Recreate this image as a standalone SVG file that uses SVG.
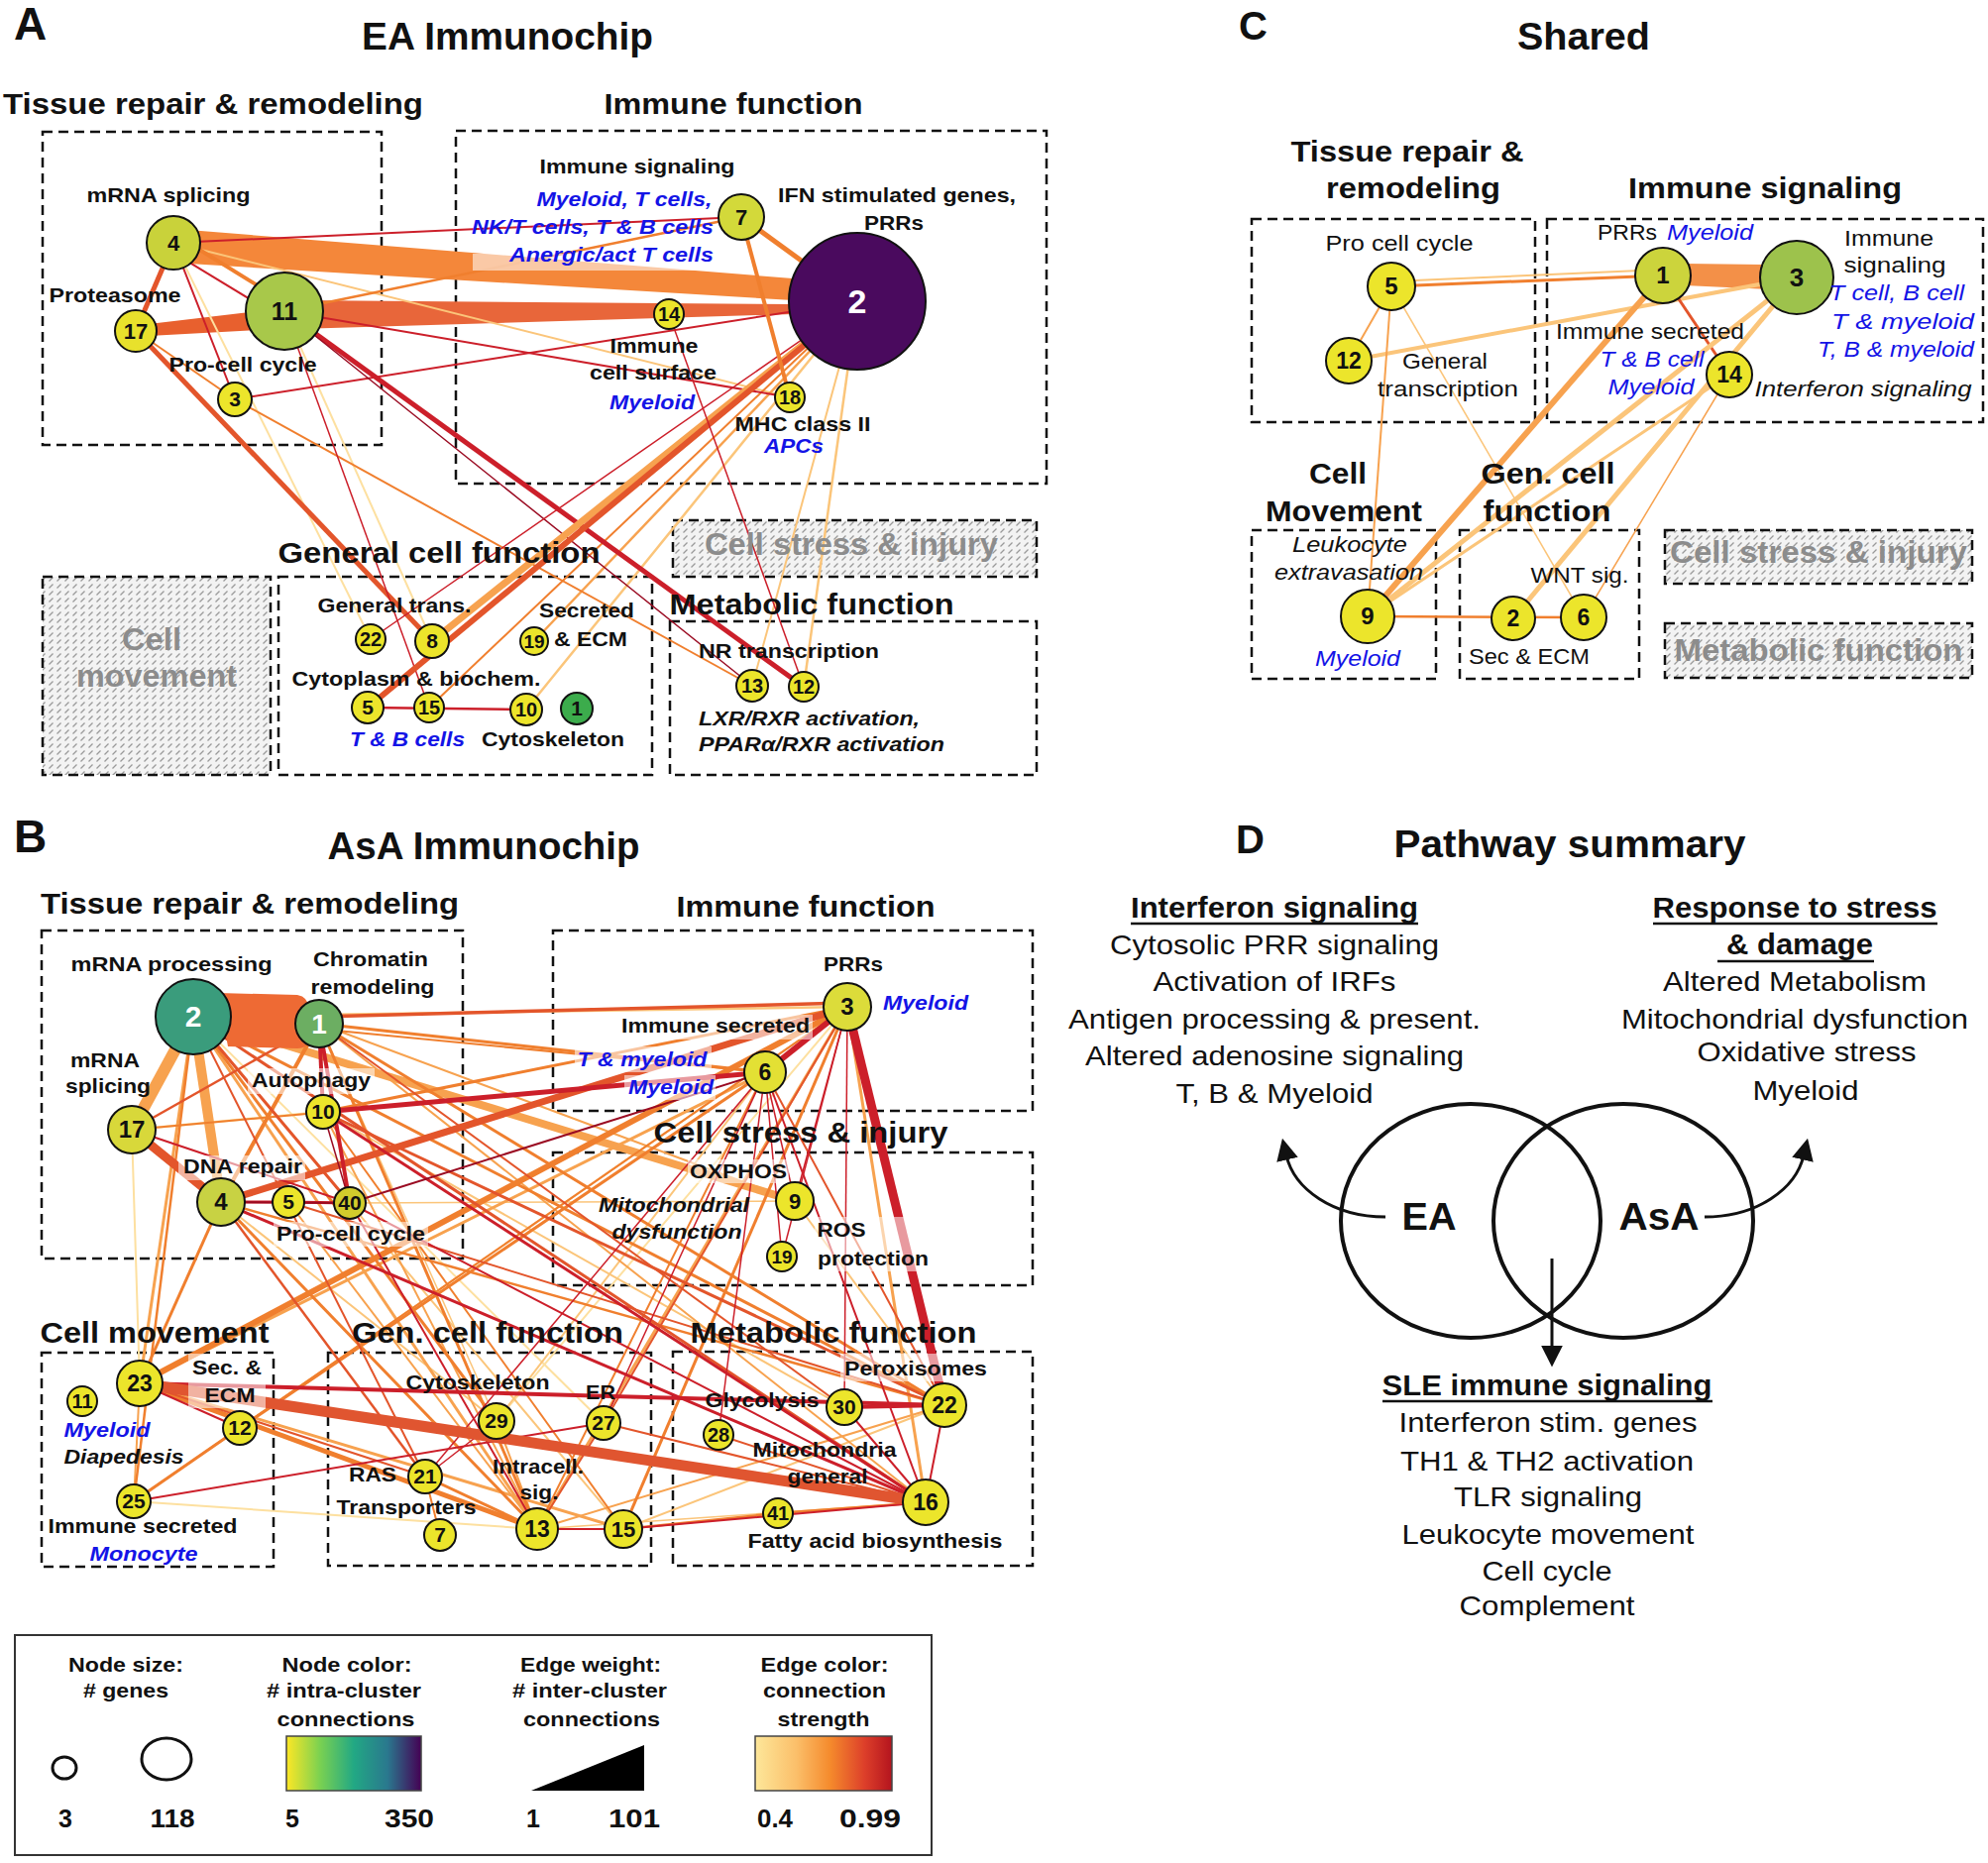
<svg xmlns="http://www.w3.org/2000/svg" width="2006" height="1880" viewBox="0 0 2006 1880">
<style>
text{font-family:"Liberation Sans",Arial,Helvetica,sans-serif;text-anchor:middle;fill:#111}
.s{text-anchor:start}
.P{font-weight:bold;font-size:46px}
.T{font-weight:bold;font-size:39px}
.H{font-weight:bold;font-size:29px}
.L{font-weight:bold;font-size:21px}
.LB{font-weight:bold;font-size:21px;font-style:italic;fill:#1414e6}
.LI{font-weight:bold;font-size:21px;font-style:italic}
.C{font-size:22px}
.CB{font-size:22px;font-style:italic;fill:#1414e6}
.CI{font-size:22px;font-style:italic}
.G{font-weight:bold;font-size:31px;fill:#8c8c8c}
.D{font-size:28px}
.DB{font-size:29px;font-weight:bold}
.N{font-weight:bold}
.W{fill:#fff}
.box{fill:none;stroke:#111;stroke-width:2.5;stroke-dasharray:10 6}
.hat{fill:url(#hatch);stroke:#111;stroke-width:2.5;stroke-dasharray:10 6}
.nd{stroke:#111;stroke-width:2}
.y{fill:#ece52b}
.bg{fill:#fff;opacity:.55}
.dr{stroke:#9a0b22}.r{stroke:#cc1f2a}.ro{stroke:#e3552b}.o{stroke:#f07f2e}.lo{stroke:#f7a24f}.p{stroke:#fbc57a}.py{stroke:#fde0a0}
.ul{stroke:#111;stroke-width:2.5}
.ven{fill:none;stroke:#111;stroke-width:4}
.arr{fill:none;stroke:#111;stroke-width:3}
</style>
<defs>
<pattern id="hatch" patternUnits="userSpaceOnUse" width="8" height="7">
<rect width="8" height="7" fill="#f3f3f3"/>
<path d="M1.5,5.5 L5.5,1.5" stroke="#9a9a9a" stroke-width="1.2"/>
</pattern>
<linearGradient id="vir" x1="0" y1="0" x2="1" y2="0">
<stop offset="0" stop-color="#fde725"/><stop offset="0.25" stop-color="#7ad151"/><stop offset="0.5" stop-color="#22a884"/><stop offset="0.75" stop-color="#2a788e"/><stop offset="1" stop-color="#440154"/>
</linearGradient>
<linearGradient id="heat" x1="0" y1="0" x2="1" y2="0">
<stop offset="0" stop-color="#fde79a"/><stop offset="0.3" stop-color="#fbbf6a"/><stop offset="0.55" stop-color="#f58a2c"/><stop offset="0.8" stop-color="#dd3f2a"/><stop offset="1" stop-color="#b4141e"/>
</linearGradient>
<marker id="ah" viewBox="0 0 10 10" refX="2" refY="5" markerWidth="22" markerHeight="22" markerUnits="userSpaceOnUse" orient="auto">
<path d="M0,0 L10,5 L0,10 z" fill="#111"/>
</marker>
</defs>
<rect width="2006" height="1880" fill="#fff"/>

<!-- ================= PANEL A ================= -->
<g id="A-frames">
<rect class="box" x="43" y="133" width="342" height="316"/>
<rect class="box" x="460" y="132" width="596" height="356"/>
<rect class="hat" x="43" y="582" width="230" height="200"/>
<rect class="box" x="281" y="582" width="377" height="200"/>
<rect class="hat" x="679" y="525" width="367" height="57"/>
<rect class="box" x="676" y="627" width="370" height="155"/>
</g>
<g id="A-edges">
<polygon points="190,232 800,281 800,303 190,266" fill="#f4873a"/>
<polygon points="300,303 800,307 800,317 300,332" fill="#e8663a"/>
<polygon points="150,327 260,314 260,333 150,339" fill="#e8602e"/>
<line class="py" stroke-width="2" x1="175" y1="245" x2="374" y2="645"/>
<line class="p" stroke-width="2" x1="175" y1="245" x2="797" y2="401"/>
<line class="py" stroke-width="2" x1="287" y1="314" x2="436" y2="647"/>
<line class="p" stroke-width="2" x1="865" y1="304" x2="759" y2="692"/>
<line class="p" stroke-width="2.5" x1="865" y1="304" x2="811" y2="693"/>
<line class="p" stroke-width="2.5" x1="865" y1="304" x2="531" y2="716"/>
<line class="lo" stroke-width="2.5" x1="865" y1="304" x2="539" y2="647"/>
<line class="o" stroke-width="2" x1="865" y1="304" x2="433" y2="714"/>
<line class="r" stroke-width="2" x1="175" y1="245" x2="748" y2="219"/>
<line class="o" stroke-width="4" x1="182" y1="240" x2="292" y2="308"/>
<line class="r" stroke-width="2" x1="170" y1="252" x2="282" y2="320"/>
<line class="ro" stroke-width="5" x1="175" y1="245" x2="137" y2="334"/>
<line class="r" stroke-width="2" x1="175" y1="245" x2="237" y2="403"/>
<line class="o" stroke-width="2.5" x1="287" y1="314" x2="748" y2="219"/>
<line class="r" stroke-width="2" x1="287" y1="314" x2="797" y2="401"/>
<line class="r" stroke-width="2" x1="237" y1="403" x2="865" y2="304"/>
<line class="ro" stroke-width="5" x1="137" y1="334" x2="436" y2="647"/>
<line class="o" stroke-width="2" x1="137" y1="334" x2="237" y2="403"/>
<line class="o" stroke-width="2" x1="237" y1="403" x2="759" y2="692"/>
<line class="r" stroke-width="5" x1="287" y1="314" x2="811" y2="693"/>
<line class="dr" stroke-width="1.5" x1="287" y1="314" x2="759" y2="692"/>
<line class="r" stroke-width="1.5" x1="287" y1="314" x2="433" y2="714"/>
<line class="lo" stroke-width="7" x1="865" y1="304" x2="436" y2="647"/>
<line class="ro" stroke-width="6" x1="865" y1="304" x2="371" y2="714"/>
<line class="r" stroke-width="1.5" x1="865" y1="304" x2="374" y2="645"/>
<line class="r" stroke-width="1.5" x1="675" y1="317" x2="811" y2="693"/>
<line class="o" stroke-width="4" x1="748" y1="219" x2="797" y2="401"/>
<line class="o" stroke-width="5" x1="748" y1="219" x2="865" y2="304"/>
<line class="r" stroke-width="2.5" x1="371" y1="714" x2="531" y2="716"/>
</g>
<rect class="bg" x="477" y="256" width="245" height="17"/>
<g id="A-n4"><circle class="nd" cx="175" cy="245" r="27" fill="#c9d23a"/><text class="N" x="175" y="253" font-size="22">4</text></g>
<g id="A-n11"><circle class="nd" cx="287" cy="314" r="39" fill="#a8c84a"/><text class="N" x="287" y="323" font-size="25">11</text></g>
<g id="A-n17"><circle class="nd" cx="137" cy="334" r="21" fill="#e8e12c"/><text class="N" x="137" y="342" font-size="22">17</text></g>
<g id="A-n3"><circle class="nd y" cx="237" cy="403" r="17"/><text class="N" x="237" y="410" font-size="21">3</text></g>
<g id="A-n7"><circle class="nd" cx="748" cy="219" r="23" fill="#d3d93a"/><text class="N" x="748" y="227" font-size="22">7</text></g>
<g id="A-n2"><circle class="nd" cx="865" cy="304" r="69" fill="#4a0a5e"/><text class="N W" x="865" y="316" font-size="34">2</text></g>
<g id="A-n14"><circle class="nd y" cx="675" cy="317" r="15"/><text class="N" x="675" y="324" font-size="20">14</text></g>
<g id="A-n18"><circle class="nd y" cx="797" cy="401" r="15"/><text class="N" x="797" y="408" font-size="20">18</text></g>
<g id="A-n22"><circle class="nd y" cx="374" cy="645" r="15"/><text class="N" x="374" y="652" font-size="20">22</text></g>
<g id="A-n8"><circle class="nd y" cx="436" cy="647" r="17"/><text class="N" x="436" y="654" font-size="21">8</text></g>
<g id="A-n19"><circle class="nd y" cx="539" cy="647" r="14"/><text class="N" x="539" y="654" font-size="19">19</text></g>
<g id="A-n5"><circle class="nd y" cx="371" cy="714" r="16"/><text class="N" x="371" y="721" font-size="21">5</text></g>
<g id="A-n15"><circle class="nd y" cx="433" cy="714" r="15"/><text class="N" x="433" y="721" font-size="20">15</text></g>
<g id="A-n10"><circle class="nd y" cx="531" cy="716" r="16"/><text class="N" x="531" y="723" font-size="20">10</text></g>
<g id="A-n1"><circle class="nd" cx="582" cy="715" r="16" fill="#3cac4c"/><text class="N" x="582" y="722" font-size="21">1</text></g>
<g id="A-n13"><circle class="nd y" cx="759" cy="692" r="16"/><text class="N" x="759" y="699" font-size="20">13</text></g>
<g id="A-n12"><circle class="nd y" cx="811" cy="693" r="15"/><text class="N" x="811" y="700" font-size="20">12</text></g>
<g id="A-text">
<text class="P s" x="14" y="40">A</text>
<text class="T" x="512" y="50" textLength="294" lengthAdjust="spacingAndGlyphs">EA Immunochip</text>
<text class="H" x="215" y="115" textLength="424" lengthAdjust="spacingAndGlyphs">Tissue repair &amp; remodeling</text>
<text class="H" x="740" y="115" textLength="261" lengthAdjust="spacingAndGlyphs">Immune function</text>
<text class="L" x="170" y="204" textLength="165" lengthAdjust="spacingAndGlyphs">mRNA splicing</text>
<text class="L" x="116" y="305" textLength="133" lengthAdjust="spacingAndGlyphs">Proteasome</text>
<text class="L" x="245" y="375" textLength="149" lengthAdjust="spacingAndGlyphs">Pro-cell cycle</text>
<text class="L" x="643" y="175" textLength="197" lengthAdjust="spacingAndGlyphs">Immune signaling</text>
<text class="LB" x="630" y="208" textLength="177" lengthAdjust="spacingAndGlyphs">Myeloid, T cells,</text>
<text class="LB" x="598" y="236" textLength="244" lengthAdjust="spacingAndGlyphs">NK/T cells, T &amp; B cells</text>
<text class="LB" x="617" y="264" textLength="206" lengthAdjust="spacingAndGlyphs">Anergic/act T cells</text>
<text class="L" x="905" y="204" textLength="240" lengthAdjust="spacingAndGlyphs">IFN stimulated genes,</text>
<text class="L" x="902" y="232" textLength="60" lengthAdjust="spacingAndGlyphs">PRRs</text>
<text class="L" x="660" y="356" textLength="89" lengthAdjust="spacingAndGlyphs">Immune</text>
<text class="L" x="659" y="383" textLength="128" lengthAdjust="spacingAndGlyphs">cell surface</text>
<text class="LB" x="658" y="413" textLength="86" lengthAdjust="spacingAndGlyphs">Myeloid</text>
<text class="L" x="810" y="435" textLength="137" lengthAdjust="spacingAndGlyphs">MHC class II</text>
<text class="LB" x="801" y="457" textLength="60" lengthAdjust="spacingAndGlyphs">APCs</text>
<text class="H" x="443" y="568" textLength="325" lengthAdjust="spacingAndGlyphs">General cell function</text>
<text class="G" x="153" y="656" textLength="60" lengthAdjust="spacingAndGlyphs">Cell</text>
<text class="G" x="158" y="693" textLength="162" lengthAdjust="spacingAndGlyphs">movement</text>
<text class="L" x="398" y="618" textLength="155" lengthAdjust="spacingAndGlyphs">General trans.</text>
<text class="L" x="420" y="692" textLength="251" lengthAdjust="spacingAndGlyphs">Cytoplasm &amp; biochem.</text>
<text class="LB" x="411" y="753" textLength="116" lengthAdjust="spacingAndGlyphs">T &amp; B cells</text>
<text class="L" x="558" y="753" textLength="144" lengthAdjust="spacingAndGlyphs">Cytoskeleton</text>
<text class="L" x="592" y="623" textLength="96" lengthAdjust="spacingAndGlyphs">Secreted</text>
<text class="L" x="596" y="652" textLength="74" lengthAdjust="spacingAndGlyphs">&amp; ECM</text>
<text class="G" x="859" y="560" textLength="296" lengthAdjust="spacingAndGlyphs">Cell stress &amp; injury</text>
<text class="H" x="819" y="620" textLength="287" lengthAdjust="spacingAndGlyphs">Metabolic function</text>
<text class="L" x="796" y="664" textLength="182" lengthAdjust="spacingAndGlyphs">NR transcription</text>
<text class="LI s" x="705" y="732" textLength="223" lengthAdjust="spacingAndGlyphs">LXR/RXR activation,</text>
<text class="LI s" x="705" y="758" textLength="248" lengthAdjust="spacingAndGlyphs">PPARα/RXR activation</text>
</g>

<!-- ================= PANEL C ================= -->
<g id="C-frames">
<rect class="box" x="1263" y="221" width="286" height="205"/>
<rect class="box" x="1561" y="221" width="440" height="205"/>
<rect class="box" x="1263" y="535" width="186" height="150"/>
<rect class="box" x="1473" y="535" width="181" height="150"/>
<rect class="hat" x="1680" y="535" width="310" height="54"/>
<rect class="hat" x="1680" y="629" width="310" height="55"/>
</g>
<g id="C-edges">
<polygon points="1700,266 1785,267 1785,292 1700,288" fill="#f39048"/>
<line class="p" stroke-width="2" x1="1404" y1="284" x2="1678" y2="272"/>
<line class="o" stroke-width="3" x1="1404" y1="289" x2="1678" y2="278"/>
<line class="p" stroke-width="4" x1="1361" y1="364" x2="1813" y2="280"/>
<line class="lo" stroke-width="2" x1="1404" y1="289" x2="1361" y2="364"/>
<line class="lo" stroke-width="2" x1="1404" y1="289" x2="1380" y2="622"/>
<line class="p" stroke-width="1.5" x1="1404" y1="289" x2="1598" y2="623"/>
<line class="ro" stroke-width="3" x1="1678" y1="278" x2="1745" y2="378"/>
<line class="p" stroke-width="5" x1="1813" y1="280" x2="1380" y2="622"/>
<line class="p" stroke-width="3" x1="1745" y1="378" x2="1380" y2="622"/>
<line class="p" stroke-width="5" x1="1813" y1="280" x2="1527" y2="624"/>
<line class="lo" stroke-width="1.5" x1="1745" y1="378" x2="1598" y2="623"/>
<line class="lo" stroke-width="6" x1="1678" y1="278" x2="1380" y2="622"/>
<line class="o" stroke-width="2.5" x1="1380" y1="622" x2="1598" y2="623"/>
</g>
<g id="C-n5"><circle class="nd y" cx="1404" cy="289" r="24"/><text class="N" x="1404" y="297" font-size="24">5</text></g>
<g id="C-n12"><circle class="nd y" cx="1361" cy="364" r="23"/><text class="N" x="1361" y="372" font-size="23">12</text></g>
<g id="C-n1"><circle class="nd" cx="1678" cy="278" r="28" fill="#ccd43c"/><text class="N" x="1678" y="286" font-size="24">1</text></g>
<g id="C-n3"><circle class="nd" cx="1813" cy="280" r="37" fill="#9dc24c"/><text class="N" x="1813" y="289" font-size="26">3</text></g>
<g id="C-n14"><circle class="nd y" cx="1745" cy="378" r="23"/><text class="N" x="1745" y="386" font-size="23">14</text></g>
<g id="C-n9"><circle class="nd y" cx="1380" cy="622" r="27"/><text class="N" x="1380" y="630" font-size="24">9</text></g>
<g id="C-n2"><circle class="nd y" cx="1527" cy="624" r="22"/><text class="N" x="1527" y="632" font-size="23">2</text></g>
<g id="C-n6"><circle class="nd y" cx="1598" cy="623" r="23"/><text class="N" x="1598" y="631" font-size="23">6</text></g>
<g id="C-text">
<text class="s" x="1250" y="40" font-size="40" font-weight="bold">C</text>
<text class="T" x="1598" y="50" textLength="134" lengthAdjust="spacingAndGlyphs">Shared</text>
<text class="H" x="1420" y="163" textLength="235" lengthAdjust="spacingAndGlyphs">Tissue repair &amp;</text>
<text class="H" x="1426" y="200" textLength="176" lengthAdjust="spacingAndGlyphs">remodeling</text>
<text class="H" x="1781" y="200" textLength="276" lengthAdjust="spacingAndGlyphs">Immune signaling</text>
<text class="C" x="1412" y="253" textLength="149" lengthAdjust="spacingAndGlyphs">Pro cell cycle</text>
<text class="C" x="1458" y="372" textLength="86" lengthAdjust="spacingAndGlyphs">General</text>
<text class="C" x="1461" y="400" textLength="142" lengthAdjust="spacingAndGlyphs">transcription</text>
<text class="C s" x="1612" y="242" textLength="60" lengthAdjust="spacingAndGlyphs">PRRs</text>
<text class="CB s" x="1682" y="242" textLength="87" lengthAdjust="spacingAndGlyphs">Myeloid</text>
<text class="C" x="1906" y="248" textLength="90" lengthAdjust="spacingAndGlyphs">Immune</text>
<text class="C" x="1912" y="275" textLength="103" lengthAdjust="spacingAndGlyphs">signaling</text>
<text class="CB" x="1914" y="303" textLength="136" lengthAdjust="spacingAndGlyphs">T cell, B cell</text>
<text class="CB" x="1920" y="332" textLength="144" lengthAdjust="spacingAndGlyphs">T &amp; myeloid</text>
<text class="CB" x="1913" y="360" textLength="158" lengthAdjust="spacingAndGlyphs">T, B &amp; myeloid</text>
<text class="C" x="1665" y="342" textLength="190" lengthAdjust="spacingAndGlyphs">Immune secreted</text>
<text class="CB" x="1667" y="370" textLength="105" lengthAdjust="spacingAndGlyphs">T &amp; B cell</text>
<text class="CB" x="1666" y="398" textLength="87" lengthAdjust="spacingAndGlyphs">Myeloid</text>
<text class="CI" x="1880" y="400" textLength="219" lengthAdjust="spacingAndGlyphs">Interferon signaling</text>
<text class="H" x="1350" y="488" textLength="58" lengthAdjust="spacingAndGlyphs">Cell</text>
<text class="H" x="1356" y="526" textLength="158" lengthAdjust="spacingAndGlyphs">Movement</text>
<text class="H" x="1562" y="488" textLength="135" lengthAdjust="spacingAndGlyphs">Gen. cell</text>
<text class="H" x="1561" y="526" textLength="129" lengthAdjust="spacingAndGlyphs">function</text>
<text class="CI" x="1362" y="557" textLength="116" lengthAdjust="spacingAndGlyphs">Leukocyte</text>
<text class="CI" x="1361" y="585" textLength="150" lengthAdjust="spacingAndGlyphs">extravasation</text>
<text class="CB" x="1370" y="672" textLength="86" lengthAdjust="spacingAndGlyphs">Myeloid</text>
<text class="C" x="1594" y="588" textLength="99" lengthAdjust="spacingAndGlyphs">WNT sig.</text>
<text class="C" x="1543" y="670" textLength="122" lengthAdjust="spacingAndGlyphs">Sec &amp; ECM</text>
<text class="G" x="1835" y="568" textLength="300" lengthAdjust="spacingAndGlyphs">Cell stress &amp; injury</text>
<text class="G" x="1835" y="667" textLength="291" lengthAdjust="spacingAndGlyphs">Metabolic function</text>
</g>

<!-- ================= PANEL B ================= -->
<g id="B-frames">
<rect class="box" x="42" y="939" width="425" height="331"/>
<rect class="box" x="558" y="939" width="484" height="182"/>
<rect class="box" x="558" y="1163" width="484" height="134"/>
<rect class="box" x="42" y="1365" width="234" height="216"/>
<rect class="box" x="331" y="1365" width="326" height="215"/>
<rect class="box" x="679" y="1364" width="363" height="216"/>
</g>
<g id="B-edges">
<line class="py" stroke-width="2" x1="195" y1="1026" x2="609" y2="1436"/>
<line class="py" stroke-width="2.5" x1="133" y1="1140" x2="326" y2="1122"/>
<line class="py" stroke-width="2" x1="133" y1="1140" x2="141" y2="1396"/>
<line class="py" stroke-width="2" x1="855" y1="1016" x2="501" y2="1434"/>
<line class="py" stroke-width="2" x1="135" y1="1515" x2="542" y2="1543"/>
<line class="p" stroke-width="2.5" x1="195" y1="1026" x2="855" y2="1016"/>
<line class="p" stroke-width="2" x1="195" y1="1026" x2="629" y2="1543"/>
<line class="p" stroke-width="1.5" x1="322" y1="1033" x2="501" y2="1434"/>
<line class="p" stroke-width="2" x1="326" y1="1122" x2="852" y2="1420"/>
<line class="p" stroke-width="2" x1="223" y1="1213" x2="501" y2="1434"/>
<line class="p" stroke-width="1.5" x1="353" y1="1214" x2="802" y2="1212"/>
<line class="p" stroke-width="2" x1="855" y1="1016" x2="242" y2="1441"/>
<line class="p" stroke-width="2" x1="772" y1="1082" x2="501" y2="1434"/>
<line class="p" stroke-width="2" x1="802" y1="1212" x2="953" y2="1418"/>
<line class="p" stroke-width="1.5" x1="542" y1="1543" x2="934" y2="1516"/>
<line class="p" stroke-width="2" x1="629" y1="1543" x2="953" y2="1418"/>
<line class="lo" stroke-width="12" x1="195" y1="1026" x2="133" y2="1140"/>
<line class="lo" stroke-width="10" x1="195" y1="1026" x2="223" y2="1213"/>
<line class="lo" stroke-width="8" x1="195" y1="1026" x2="802" y2="1212"/>
<line class="lo" stroke-width="3" x1="195" y1="1026" x2="542" y2="1543"/>
<line class="lo" stroke-width="3" x1="195" y1="1026" x2="141" y2="1396"/>
<line class="lo" stroke-width="2" x1="322" y1="1033" x2="802" y2="1212"/>
<line class="lo" stroke-width="2" x1="322" y1="1033" x2="934" y2="1516"/>
<line class="lo" stroke-width="2" x1="326" y1="1122" x2="542" y2="1543"/>
<line class="lo" stroke-width="2" x1="291" y1="1213" x2="542" y2="1543"/>
<line class="lo" stroke-width="3" x1="855" y1="1016" x2="934" y2="1516"/>
<line class="lo" stroke-width="3" x1="855" y1="1016" x2="542" y2="1543"/>
<line class="lo" stroke-width="3" x1="772" y1="1082" x2="141" y2="1396"/>
<line class="lo" stroke-width="2" x1="141" y1="1396" x2="135" y2="1515"/>
<line class="lo" stroke-width="3" x1="141" y1="1396" x2="629" y2="1543"/>
<line class="lo" stroke-width="2" x1="501" y1="1434" x2="542" y2="1543"/>
<line class="lo" stroke-width="2" x1="542" y1="1543" x2="953" y2="1418"/>
<line class="o" stroke-width="3" x1="195" y1="1026" x2="501" y2="1434"/>
<line class="o" stroke-width="3" x1="195" y1="1026" x2="953" y2="1418"/>
<line class="o" stroke-width="2.5" x1="195" y1="1026" x2="135" y2="1515"/>
<line class="o" stroke-width="2" x1="195" y1="1026" x2="772" y2="1082"/>
<line class="o" stroke-width="3" x1="322" y1="1033" x2="772" y2="1082"/>
<line class="o" stroke-width="4" x1="322" y1="1033" x2="223" y2="1213"/>
<line class="o" stroke-width="3" x1="322" y1="1033" x2="953" y2="1418"/>
<line class="o" stroke-width="3" x1="322" y1="1033" x2="542" y2="1543"/>
<line class="o" stroke-width="2" x1="133" y1="1140" x2="772" y2="1082"/>
<line class="o" stroke-width="3" x1="326" y1="1122" x2="855" y2="1016"/>
<line class="o" stroke-width="2" x1="326" y1="1122" x2="629" y2="1543"/>
<line class="o" stroke-width="3" x1="223" y1="1213" x2="542" y2="1543"/>
<line class="o" stroke-width="3" x1="223" y1="1213" x2="141" y2="1396"/>
<line class="o" stroke-width="2.5" x1="223" y1="1213" x2="953" y2="1418"/>
<line class="o" stroke-width="6" x1="855" y1="1016" x2="141" y2="1396"/>
<line class="o" stroke-width="3" x1="855" y1="1016" x2="629" y2="1543"/>
<line class="o" stroke-width="2" x1="855" y1="1016" x2="135" y2="1515"/>
<line class="o" stroke-width="2" x1="772" y1="1082" x2="542" y2="1543"/>
<line class="o" stroke-width="3" x1="772" y1="1082" x2="242" y2="1441"/>
<line class="o" stroke-width="5" x1="141" y1="1396" x2="542" y2="1543"/>
<line class="o" stroke-width="3" x1="135" y1="1515" x2="242" y2="1441"/>
<line class="o" stroke-width="2" x1="429" y1="1490" x2="444" y2="1549"/>
<line class="o" stroke-width="3" x1="429" y1="1490" x2="542" y2="1543"/>
<line class="o" stroke-width="2.5" x1="629" y1="1543" x2="785" y2="1527"/>
<line class="o" stroke-width="2.5" x1="785" y1="1527" x2="934" y2="1516"/>
<line class="ro" stroke-width="3" x1="195" y1="1026" x2="353" y2="1214"/>
<line class="ro" stroke-width="3" x1="195" y1="1026" x2="934" y2="1516"/>
<line class="ro" stroke-width="2" x1="195" y1="1026" x2="429" y2="1490"/>
<line class="ro" stroke-width="3.5" x1="322" y1="1026" x2="855" y2="1012"/>
<line class="ro" stroke-width="2.5" x1="322" y1="1033" x2="133" y2="1140"/>
<line class="ro" stroke-width="2" x1="322" y1="1033" x2="852" y2="1420"/>
<line class="ro" stroke-width="9" x1="133" y1="1140" x2="223" y2="1213"/>
<line class="ro" stroke-width="3" x1="326" y1="1122" x2="953" y2="1418"/>
<line class="ro" stroke-width="2.5" x1="223" y1="1213" x2="429" y2="1490"/>
<line class="ro" stroke-width="2" x1="291" y1="1213" x2="953" y2="1418"/>
<line class="ro" stroke-width="2" x1="855" y1="1016" x2="609" y2="1436"/>
<line class="ro" stroke-width="2" x1="772" y1="1082" x2="953" y2="1418"/>
<line class="ro" stroke-width="2" x1="141" y1="1396" x2="429" y2="1490"/>
<line class="ro" stroke-width="2" x1="609" y1="1436" x2="542" y2="1543"/>
<line class="ro" stroke-width="2" x1="609" y1="1436" x2="934" y2="1516"/>
<line class="ro" stroke-width="2" x1="725" y1="1448" x2="934" y2="1516"/>
<line class="ro" stroke-width="7" x1="223" y1="1213" x2="855" y2="1016"/>
<line class="r" stroke-width="4" x1="322" y1="1033" x2="326" y2="1122"/>
<line class="r" stroke-width="4" x1="322" y1="1033" x2="353" y2="1214"/>
<line class="r" stroke-width="2" x1="133" y1="1140" x2="353" y2="1214"/>
<line class="r" stroke-width="3" x1="326" y1="1122" x2="934" y2="1516"/>
<line class="r" stroke-width="3" x1="223" y1="1213" x2="291" y2="1213"/>
<line class="r" stroke-width="3" x1="291" y1="1213" x2="353" y2="1214"/>
<line class="r" stroke-width="3" x1="223" y1="1213" x2="934" y2="1516"/>
<line class="r" stroke-width="2" x1="353" y1="1214" x2="542" y2="1543"/>
<line class="r" stroke-width="2" x1="353" y1="1214" x2="934" y2="1516"/>
<line class="r" stroke-width="6" x1="855" y1="1016" x2="772" y2="1082"/>
<line class="r" stroke-width="9" x1="855" y1="1016" x2="953" y2="1418"/>
<line class="r" stroke-width="1.5" x1="855" y1="1016" x2="852" y2="1420"/>
<line class="r" stroke-width="1.5" x1="855" y1="1016" x2="802" y2="1212"/>
<line class="r" stroke-width="1.5" x1="855" y1="1016" x2="789" y2="1268"/>
<line class="r" stroke-width="1.5" x1="772" y1="1082" x2="802" y2="1212"/>
<line class="r" stroke-width="1.5" x1="772" y1="1082" x2="789" y2="1268"/>
<line class="r" stroke-width="2" x1="772" y1="1082" x2="934" y2="1516"/>
<line class="r" stroke-width="1.5" x1="772" y1="1082" x2="429" y2="1490"/>
<line class="r" stroke-width="1.5" x1="772" y1="1082" x2="609" y2="1436"/>
<line class="r" stroke-width="1.5" x1="772" y1="1082" x2="725" y2="1448"/>
<line class="r" stroke-width="4" x1="141" y1="1396" x2="953" y2="1418"/>
<line class="r" stroke-width="2" x1="141" y1="1396" x2="242" y2="1441"/>
<line class="r" stroke-width="2" x1="135" y1="1515" x2="609" y2="1436"/>
<line class="r" stroke-width="1.5" x1="429" y1="1490" x2="501" y2="1434"/>
<line class="r" stroke-width="2" x1="542" y1="1543" x2="629" y2="1543"/>
<line class="r" stroke-width="2" x1="629" y1="1543" x2="934" y2="1516"/>
<line class="r" stroke-width="4" x1="852" y1="1420" x2="953" y2="1418"/>
<line class="r" stroke-width="2" x1="852" y1="1420" x2="934" y2="1516"/>
<line class="r" stroke-width="2" x1="953" y1="1418" x2="934" y2="1516"/>
<line class="r" stroke-width="5" x1="326" y1="1122" x2="772" y2="1082"/>
<line class="dr" stroke-width="1.5" x1="326" y1="1122" x2="353" y2="1214"/>
<line class="dr" stroke-width="2" x1="223" y1="1213" x2="353" y2="1214"/>
<line class="dr" stroke-width="2" x1="353" y1="1214" x2="772" y2="1082"/>
<line stroke="#e05530" stroke-width="11" x1="141" y1="1396" x2="934" y2="1516"/>
<path d="M220,1002 L300,1004 Q312,1006 312,1020 L312,1046 Q312,1058 300,1058 L230,1056 Z" fill="#ee6a34"/>
</g>
<g id="B-label-bg">
<rect class="bg" x="250" y="1078" width="128" height="26"/>
<rect class="bg" x="180" y="1166" width="128" height="25"/>
<rect class="bg" x="276" y="1233" width="156" height="25"/>
<rect class="bg" x="625" y="1024" width="195" height="25"/>
<rect class="bg" x="580" y="1056" width="138" height="26"/>
<rect class="bg" x="630" y="1085" width="92" height="25"/>
<rect class="bg" x="694" y="1170" width="102" height="24"/>
<rect class="bg" x="822" y="1228" width="118" height="55"/>
<rect class="bg" x="190" y="1366" width="78" height="55"/>
<rect class="bg" x="848" y="1366" width="152" height="28"/>
</g>
<g id="B-n2"><circle class="nd" cx="195" cy="1026" r="38" fill="#3a9c7c"/><text class="N W" x="195" y="1036" font-size="30">2</text></g>
<g id="B-n1"><circle class="nd" cx="322" cy="1033" r="24" fill="#6cae62"/><text class="N W" x="322" y="1043" font-size="28">1</text></g>
<g id="B-n17"><circle class="nd" cx="133" cy="1140" r="24" fill="#d8d83a"/><text class="N" x="133" y="1148" font-size="24">17</text></g>
<g id="B-n10"><circle class="nd y" cx="326" cy="1122" r="17"/><text class="N" x="326" y="1129" font-size="21">10</text></g>
<g id="B-n4"><circle class="nd" cx="223" cy="1213" r="24" fill="#c8d243"/><text class="N" x="223" y="1221" font-size="24">4</text></g>
<g id="B-n5"><circle class="nd y" cx="291" cy="1213" r="16"/><text class="N" x="291" y="1220" font-size="21">5</text></g>
<g id="B-n40"><circle class="nd" cx="353" cy="1214" r="16" fill="#d2cc2c"/><text class="N" x="353" y="1221" font-size="21">40</text></g>
<g id="B-n3"><circle class="nd" cx="855" cy="1016" r="24" fill="#dcdc3a"/><text class="N" x="855" y="1024" font-size="24">3</text></g>
<g id="B-n6"><circle class="nd" cx="772" cy="1082" r="21" fill="#e3e034"/><text class="N" x="772" y="1090" font-size="23">6</text></g>
<g id="B-n9"><circle class="nd y" cx="802" cy="1212" r="19"/><text class="N" x="802" y="1220" font-size="22">9</text></g>
<g id="B-n19"><circle class="nd y" cx="789" cy="1268" r="15"/><text class="N" x="789" y="1275" font-size="19">19</text></g>
<g id="B-n23"><circle class="nd y" cx="141" cy="1396" r="23"/><text class="N" x="141" y="1404" font-size="23">23</text></g>
<g id="B-n11"><circle class="nd y" cx="83" cy="1414" r="15"/><text class="N" x="83" y="1421" font-size="20">11</text></g>
<g id="B-n12"><circle class="nd y" cx="242" cy="1441" r="17"/><text class="N" x="242" y="1448" font-size="21">12</text></g>
<g id="B-n25"><circle class="nd y" cx="135" cy="1515" r="17"/><text class="N" x="135" y="1522" font-size="21">25</text></g>
<g id="B-n29"><circle class="nd y" cx="501" cy="1434" r="18"/><text class="N" x="501" y="1441" font-size="21">29</text></g>
<g id="B-n21"><circle class="nd y" cx="429" cy="1490" r="17"/><text class="N" x="429" y="1497" font-size="21">21</text></g>
<g id="B-n7"><circle class="nd y" cx="444" cy="1549" r="16"/><text class="N" x="444" y="1556" font-size="21">7</text></g>
<g id="B-n13"><circle class="nd y" cx="542" cy="1543" r="21"/><text class="N" x="542" y="1551" font-size="23">13</text></g>
<g id="B-n15"><circle class="nd y" cx="629" cy="1543" r="19"/><text class="N" x="629" y="1551" font-size="22">15</text></g>
<g id="B-n27"><circle class="nd y" cx="609" cy="1436" r="17"/><text class="N" x="609" y="1443" font-size="21">27</text></g>
<g id="B-n30"><circle class="nd y" cx="852" cy="1420" r="18"/><text class="N" x="852" y="1427" font-size="21">30</text></g>
<g id="B-n22"><circle class="nd y" cx="953" cy="1418" r="22"/><text class="N" x="953" y="1426" font-size="23">22</text></g>
<g id="B-n28"><circle class="nd y" cx="725" cy="1448" r="15"/><text class="N" x="725" y="1455" font-size="20">28</text></g>
<g id="B-n16"><circle class="nd y" cx="934" cy="1516" r="23"/><text class="N" x="934" y="1524" font-size="23">16</text></g>
<g id="B-n41"><circle class="nd y" cx="785" cy="1527" r="15"/><text class="N" x="785" y="1534" font-size="20">41</text></g>
<g id="B-text">
<text class="P s" x="14" y="860">B</text>
<text class="T" x="488" y="867" textLength="315" lengthAdjust="spacingAndGlyphs">AsA Immunochip</text>
<text class="H" x="252" y="922" textLength="422" lengthAdjust="spacingAndGlyphs">Tissue repair &amp; remodeling</text>
<text class="L" x="173" y="980" textLength="203" lengthAdjust="spacingAndGlyphs">mRNA processing</text>
<text class="L" x="374" y="975" textLength="116" lengthAdjust="spacingAndGlyphs">Chromatin</text>
<text class="L" x="376" y="1003" textLength="125" lengthAdjust="spacingAndGlyphs">remodeling</text>
<text class="L" x="106" y="1077" textLength="70" lengthAdjust="spacingAndGlyphs">mRNA</text>
<text class="L" x="109" y="1103" textLength="86" lengthAdjust="spacingAndGlyphs">splicing</text>
<text class="L" x="314" y="1097" textLength="120" lengthAdjust="spacingAndGlyphs">Autophagy</text>
<text class="L" x="245" y="1184" textLength="120" lengthAdjust="spacingAndGlyphs">DNA repair</text>
<text class="L" x="354" y="1252" textLength="150" lengthAdjust="spacingAndGlyphs">Pro-cell cycle</text>
<text class="H" x="813" y="925" textLength="261" lengthAdjust="spacingAndGlyphs">Immune function</text>
<text class="L" x="861" y="980" textLength="60" lengthAdjust="spacingAndGlyphs">PRRs</text>
<text class="LB s" x="891" y="1019" textLength="86" lengthAdjust="spacingAndGlyphs">Myeloid</text>
<text class="L" x="722" y="1042" textLength="190" lengthAdjust="spacingAndGlyphs">Immune secreted</text>
<text class="LB" x="648" y="1076" textLength="131" lengthAdjust="spacingAndGlyphs">T &amp; myeloid</text>
<text class="LB" x="677" y="1104" textLength="86" lengthAdjust="spacingAndGlyphs">Myeloid</text>
<text class="H" x="808" y="1153" textLength="297" lengthAdjust="spacingAndGlyphs">Cell stress &amp; injury</text>
<text class="L" x="745" y="1189" textLength="98" lengthAdjust="spacingAndGlyphs">OXPHOS</text>
<text class="LI" x="680" y="1223" textLength="152" lengthAdjust="spacingAndGlyphs">Mitochondrial</text>
<text class="LI" x="683" y="1250" textLength="131" lengthAdjust="spacingAndGlyphs">dysfunction</text>
<text class="L" x="849" y="1248" textLength="49" lengthAdjust="spacingAndGlyphs">ROS</text>
<text class="L" x="881" y="1277" textLength="112" lengthAdjust="spacingAndGlyphs">protection</text>
<text class="H" x="156" y="1355" textLength="231" lengthAdjust="spacingAndGlyphs">Cell movement</text>
<text class="H" x="492" y="1355" textLength="274" lengthAdjust="spacingAndGlyphs">Gen. cell function</text>
<text class="H" x="841" y="1355" textLength="289" lengthAdjust="spacingAndGlyphs">Metabolic function</text>
<text class="L" x="229" y="1387" textLength="70" lengthAdjust="spacingAndGlyphs">Sec. &amp;</text>
<text class="L" x="232" y="1415" textLength="51" lengthAdjust="spacingAndGlyphs">ECM</text>
<text class="LB" x="108" y="1450" textLength="87" lengthAdjust="spacingAndGlyphs">Myeloid</text>
<text class="LI" x="125" y="1477" textLength="121" lengthAdjust="spacingAndGlyphs">Diapedesis</text>
<text class="L" x="144" y="1547" textLength="191" lengthAdjust="spacingAndGlyphs">Immune secreted</text>
<text class="LB" x="145" y="1575" textLength="109" lengthAdjust="spacingAndGlyphs">Monocyte</text>
<text class="L" x="482" y="1402" textLength="145" lengthAdjust="spacingAndGlyphs">Cytoskeleton</text>
<text class="L" x="376" y="1495" textLength="48" lengthAdjust="spacingAndGlyphs">RAS</text>
<text class="L" x="410" y="1528" textLength="141" lengthAdjust="spacingAndGlyphs">Transporters</text>
<text class="L" x="543" y="1487" textLength="92" lengthAdjust="spacingAndGlyphs">Intracell.</text>
<text class="L" x="544" y="1513" textLength="39" lengthAdjust="spacingAndGlyphs">sig.</text>
<text class="L" x="606" y="1412" textLength="30" lengthAdjust="spacingAndGlyphs">ER</text>
<text class="L" x="924" y="1388" textLength="144" lengthAdjust="spacingAndGlyphs">Peroxisomes</text>
<text class="L" x="769" y="1420" textLength="115" lengthAdjust="spacingAndGlyphs">Glycolysis</text>
<text class="L" x="832" y="1470" textLength="145" lengthAdjust="spacingAndGlyphs">Mitochondria</text>
<text class="L" x="835" y="1497" textLength="81" lengthAdjust="spacingAndGlyphs">general</text>
<text class="L" x="883" y="1562" textLength="257" lengthAdjust="spacingAndGlyphs">Fatty acid biosynthesis</text>
</g>

<!-- ================= PANEL D ================= -->
<g id="D-venn">
<ellipse class="ven" cx="1484" cy="1232" rx="131" ry="118"/>
<ellipse class="ven" cx="1638" cy="1232" rx="131" ry="118"/>
</g>
<g id="D-arrows">
<path class="arr" d="M1398,1228 C1345,1228 1306,1200 1298,1166" marker-end="url(#ah)"/>
<path class="arr" d="M1720,1228 C1773,1228 1812,1200 1820,1166" marker-end="url(#ah)"/>
<path class="arr" d="M1566,1270 L1566,1362" marker-end="url(#ah)"/>
</g>
<g id="D-text">
<text class="s" x="1247" y="861" font-size="40" font-weight="bold">D</text>
<text x="1584" y="865" font-size="38" font-weight="bold" textLength="355" lengthAdjust="spacingAndGlyphs">Pathway summary</text>
<text class="DB" x="1286" y="926" textLength="290" lengthAdjust="spacingAndGlyphs">Interferon signaling</text>
<line class="ul" x1="1141" y1="932" x2="1431" y2="932"/>
<text class="D" x="1286" y="963" textLength="332" lengthAdjust="spacingAndGlyphs">Cytosolic PRR signaling</text>
<text class="D" x="1286" y="1000" textLength="245" lengthAdjust="spacingAndGlyphs">Activation of IRFs</text>
<text class="D" x="1286" y="1038" textLength="416" lengthAdjust="spacingAndGlyphs">Antigen processing &amp; present.</text>
<text class="D" x="1286" y="1075" textLength="382" lengthAdjust="spacingAndGlyphs">Altered adenosine signaling</text>
<text class="D" x="1286" y="1113" textLength="199" lengthAdjust="spacingAndGlyphs">T, B &amp; Myeloid</text>
<text class="DB" x="1811" y="926" textLength="287" lengthAdjust="spacingAndGlyphs">Response to stress</text>
<line class="ul" x1="1668" y1="932" x2="1955" y2="932"/>
<text class="DB" x="1816" y="963" textLength="148" lengthAdjust="spacingAndGlyphs">&amp; damage</text>
<line class="ul" x1="1733" y1="970" x2="1891" y2="970"/>
<text class="D" x="1811" y="1000" textLength="266" lengthAdjust="spacingAndGlyphs">Altered Metabolism</text>
<text class="D" x="1811" y="1038" textLength="350" lengthAdjust="spacingAndGlyphs">Mitochondrial dysfunction</text>
<text class="D" x="1823" y="1071" textLength="221" lengthAdjust="spacingAndGlyphs">Oxidative stress</text>
<text class="D" x="1822" y="1110" textLength="107" lengthAdjust="spacingAndGlyphs">Myeloid</text>
<text x="1442" y="1241" font-size="38" font-weight="bold" textLength="55" lengthAdjust="spacingAndGlyphs">EA</text>
<text x="1674" y="1241" font-size="38" font-weight="bold" textLength="81" lengthAdjust="spacingAndGlyphs">AsA</text>
<text class="DB" x="1561" y="1408" textLength="333" lengthAdjust="spacingAndGlyphs">SLE immune signaling</text>
<line class="ul" x1="1395" y1="1414" x2="1728" y2="1414"/>
<text class="D" x="1562" y="1445" textLength="301" lengthAdjust="spacingAndGlyphs">Interferon stim. genes</text>
<text class="D" x="1561" y="1484" textLength="296" lengthAdjust="spacingAndGlyphs">TH1 &amp; TH2 activation</text>
<text class="D" x="1562" y="1520" textLength="190" lengthAdjust="spacingAndGlyphs">TLR signaling</text>
<text class="D" x="1562" y="1558" textLength="295" lengthAdjust="spacingAndGlyphs">Leukocyte movement</text>
<text class="D" x="1561" y="1595" textLength="131" lengthAdjust="spacingAndGlyphs">Cell cycle</text>
<text class="D" x="1561" y="1630" textLength="177" lengthAdjust="spacingAndGlyphs">Complement</text>
</g>

<!-- ================= LEGEND ================= -->
<g id="legend">
<rect x="15" y="1650" width="925" height="222" fill="none" stroke="#333" stroke-width="2"/>
<text class="L" x="127" y="1687" textLength="116" lengthAdjust="spacingAndGlyphs">Node size:</text>
<text class="L" x="127" y="1713" textLength="86" lengthAdjust="spacingAndGlyphs"># genes</text>
<ellipse cx="65" cy="1784" rx="12" ry="11" fill="none" stroke="#111" stroke-width="3"/>
<ellipse cx="168" cy="1775" rx="25" ry="21" fill="none" stroke="#111" stroke-width="3"/>
<text class="N" x="66" y="1844" font-size="25">3</text>
<text class="N" x="174" y="1844" font-size="25" textLength="45" lengthAdjust="spacingAndGlyphs">118</text>
<text class="L" x="350" y="1687" textLength="131" lengthAdjust="spacingAndGlyphs">Node color:</text>
<text class="L" x="347" y="1713" textLength="156" lengthAdjust="spacingAndGlyphs"># intra-cluster</text>
<text class="L" x="349" y="1742" textLength="139" lengthAdjust="spacingAndGlyphs">connections</text>
<rect x="289" y="1752" width="136" height="55" fill="url(#vir)" stroke="#444" stroke-width="1.5"/>
<text class="N" x="295" y="1844" font-size="25">5</text>
<text class="N" x="413" y="1844" font-size="25" textLength="50" lengthAdjust="spacingAndGlyphs">350</text>
<text class="L" x="596" y="1687" textLength="142" lengthAdjust="spacingAndGlyphs">Edge weight:</text>
<text class="L" x="595" y="1713" textLength="156" lengthAdjust="spacingAndGlyphs"># inter-cluster</text>
<text class="L" x="597" y="1742" textLength="138" lengthAdjust="spacingAndGlyphs">connections</text>
<polygon points="536,1807 650,1761 650,1807" fill="#000"/>
<text class="N" x="538" y="1844" font-size="25">1</text>
<text class="N" x="640" y="1844" font-size="25" textLength="52" lengthAdjust="spacingAndGlyphs">101</text>
<text class="L" x="832" y="1687" textLength="129" lengthAdjust="spacingAndGlyphs">Edge color:</text>
<text class="L" x="832" y="1713" textLength="124" lengthAdjust="spacingAndGlyphs">connection</text>
<text class="L" x="831" y="1742" textLength="93" lengthAdjust="spacingAndGlyphs">strength</text>
<rect x="762" y="1752" width="138" height="55" fill="url(#heat)" stroke="#444" stroke-width="1.5"/>
<text class="N" x="782" y="1844" font-size="25" textLength="36" lengthAdjust="spacingAndGlyphs">0.4</text>
<text class="N" x="878" y="1844" font-size="25" textLength="62" lengthAdjust="spacingAndGlyphs">0.99</text>
</g>
</svg>
